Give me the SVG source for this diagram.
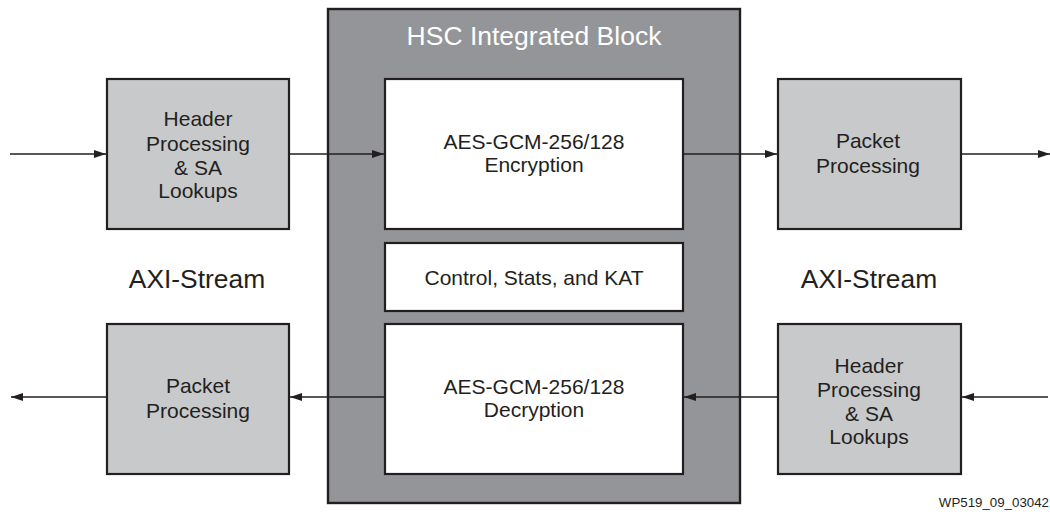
<svg xmlns="http://www.w3.org/2000/svg" width="1050" height="520" viewBox="0 0 1050 520">
<defs>
<style>
.lt{fill:#c8c9cb;stroke:#231f20;stroke-width:2.2}
.dk{fill:#939598;stroke:#231f20;stroke-width:2.4}
.wh{fill:#ffffff;stroke:#231f20;stroke-width:2.2}
.t{font-family:"Liberation Sans",Arial,sans-serif;font-size:21px;fill:#231f20;text-anchor:middle}
.big{font-family:"Liberation Sans",Arial,sans-serif;font-size:26.4px;fill:#231f20;text-anchor:middle}
.title{font-family:"Liberation Sans",Arial,sans-serif;font-size:26.5px;fill:#ffffff;text-anchor:middle}
.id{font-family:"Liberation Sans",Arial,sans-serif;font-size:13.3px;fill:#231f20;text-anchor:end}
.ln{stroke:#231f20;stroke-width:1.4;fill:none;marker-end:url(#ah)}
</style>
<marker id="ah" viewBox="0 0 12 8" refX="12" refY="4" markerWidth="12" markerHeight="8" markerUnits="userSpaceOnUse" orient="auto">
<path d="M0,0 L12,4 L0,8 Z" fill="#231f20"/>
</marker>
</defs>
<rect width="1050" height="520" fill="#ffffff"/>
<g id="hsc">
<rect class="dk" x="328" y="9" width="412" height="494"/>
<text class="title" x="534" y="45">HSC Integrated Block</text>
</g>
<g id="enc">
<rect class="wh" x="385" y="79" width="298" height="150"/>
<text class="t" x="534" y="149">AES-GCM-256/128</text>
<text class="t" x="534" y="172">Encryption</text>
</g>
<g id="ctrl">
<rect class="wh" x="385" y="243" width="298" height="68"/>
<text class="t" x="534" y="285">Control, Stats, and KAT</text>
</g>
<g id="dec">
<rect class="wh" x="385" y="324" width="298" height="150"/>
<text class="t" x="534" y="394">AES-GCM-256/128</text>
<text class="t" x="534" y="417">Decryption</text>
</g>
<g id="hdr-left">
<rect class="lt" x="107" y="79" width="182" height="150"/>
<text class="t" x="198" y="126">Header</text>
<text class="t" x="198" y="151">Processing</text>
<text class="t" x="198" y="175">&amp; SA</text>
<text class="t" x="198" y="198">Lookups</text>
</g>
<g id="pkt-right">
<rect class="lt" x="778" y="79" width="183" height="150"/>
<text class="t" x="868" y="148">Packet</text>
<text class="t" x="868" y="173">Processing</text>
</g>
<g id="pkt-left">
<rect class="lt" x="107" y="324" width="182" height="150"/>
<text class="t" x="198" y="393">Packet</text>
<text class="t" x="198" y="418">Processing</text>
</g>
<g id="hdr-right">
<rect class="lt" x="778" y="324" width="183" height="150"/>
<text class="t" x="869" y="373">Header</text>
<text class="t" x="869" y="397">Processing</text>
<text class="t" x="869" y="421">&amp; SA</text>
<text class="t" x="869" y="444">Lookups</text>
</g>
<g id="labels">
<text class="big" x="197" y="288">AXI-Stream</text>
<text class="big" x="869" y="288">AXI-Stream</text>
<text class="id" x="1049" y="507">WP519_09_03042</text>
</g>
<g id="connectors">
<line class="ln" x1="10" y1="154" x2="106" y2="154"/>
<line class="ln" x1="290" y1="154" x2="384" y2="154"/>
<line class="ln" x1="684" y1="154" x2="777" y2="154"/>
<line class="ln" x1="962" y1="154" x2="1050" y2="154"/>
<line class="ln" x1="1048" y1="397" x2="962" y2="397"/>
<line class="ln" x1="777" y1="397" x2="684" y2="397"/>
<line class="ln" x1="384" y1="397" x2="290" y2="397"/>
<line class="ln" x1="106" y1="397" x2="11" y2="397"/>
</g>
</svg>
